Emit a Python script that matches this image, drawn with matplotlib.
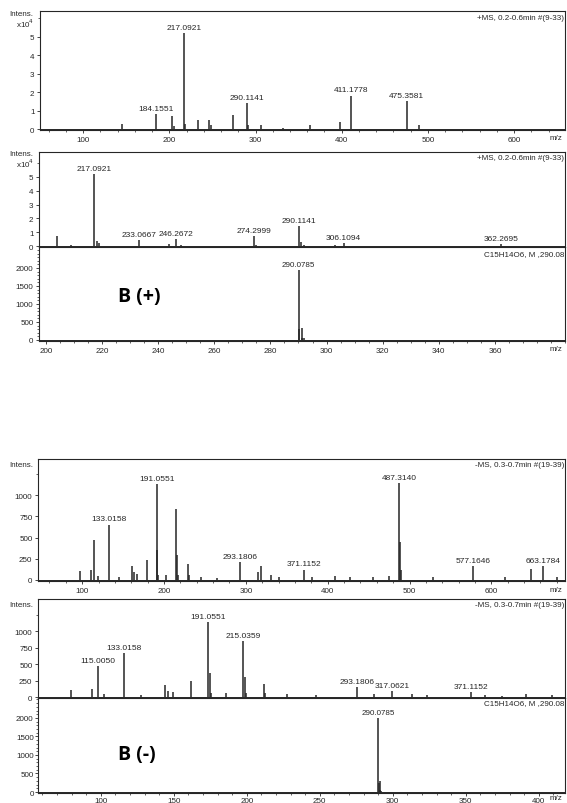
import matplotlib
matplotlib.use("Agg")
import matplotlib.pyplot as plt
from matplotlib.ticker import MultipleLocator

W, H = 567, 804
plt.rcParams['font.family'] = ['Liberation Sans', 'DejaVu Sans']
INK = '#262626'

# ---------------- data ----------------
# Panel 1: +MS full scan (intensity x10^4)
p1_mz = [145, 184.1551, 203, 205, 217.0921, 218, 233, 246, 248, 274, 290.1141, 291,
         306, 332, 363, 398, 411.1778, 475.3581, 490]
p1_int = [0.3, 0.8, 0.7, 0.15, 5.2, 0.3, 0.5, 0.5, 0.2, 0.75, 1.4, 0.2,
          0.2, 0.08, 0.2, 0.4, 1.8, 1.5, 0.2]
p1_labels = ['184.1551', '217.0921', '290.1141', '411.1778', '475.3581']
p1_xticks = [100, 200, 300, 400, 500, 600]

# Panel 2: +MS zoom (intensity x10^4)
p2_mz = [204, 209, 217.0921, 218, 219, 233.0667, 244, 246.2672, 248, 274.2999, 275,
         290.1141, 291, 292, 303, 306.1094, 362.2695]
p2_int = [0.75, 0.1, 5.2, 0.4, 0.2, 0.45, 0.15, 0.5, 0.1, 0.75, 0.1,
          1.45, 0.3, 0.1, 0.1, 0.2, 0.15]
p2_labels = ['217.0921', '233.0667', '246.2672', '274.2999', '290.1141', '306.1094', '362.2695']

# Panel 3 / 6: simulated isotope pattern C15H14O6
p3_mz = [290.0785, 290.3, 291.0819, 291.4, 292.08]
p3_int = [1950, 300, 330, 60, 50]
p6_int = [2000, 250, 300, 60, 40]
sim_label = '290.0785'
p3_xticks = [200, 220, 240, 260, 280, 300, 320, 340, 360]
p6_xticks = [100, 150, 200, 250, 300, 350, 400]

# Panel 4: -MS full scan
p4_mz = [97, 111, 115.0050, 119, 133.0158, 145, 161, 163, 167, 179, 191.0551, 192, 193,
         203, 215.0359, 216, 217, 229, 230, 245, 265, 293.1806, 315, 319, 331, 341,
         371.1152, 381, 409, 427, 455, 475, 487.3140, 488, 489, 529, 577.1646,
         617, 649, 663.1784, 680]
p4_int = [100, 120, 470, 50, 650, 30, 170, 90, 70, 230, 1130, 350, 60,
          60, 840, 290, 60, 190, 60, 40, 25, 210, 90, 160, 60, 40,
          120, 40, 50, 40, 30, 50, 1140, 450, 120, 30, 160,
          30, 130, 160, 30]
p4_labels = ['133.0158', '191.0551', '293.1806', '371.1152', '487.3140', '577.1646', '663.1784']
p4_xticks = [100, 200, 300, 400, 500, 600]

# Panel 5: -MS zoom
p5_mz = [97, 111, 115.0050, 119, 133.0158, 145, 161, 163, 167, 179, 191.0551, 192, 193,
         203, 215.0359, 216, 217, 229, 230, 245, 265, 293.1806, 305, 317.0621, 331, 341,
         371.1152, 381, 393, 409, 427]
p5_int = [100, 120, 470, 50, 670, 30, 180, 90, 70, 240, 1130, 370, 60,
          60, 850, 300, 60, 200, 60, 40, 25, 150, 40, 90, 40, 30,
          80, 30, 20, 40, 30]
p5_labels = ['115.0050', '133.0158', '191.0551', '215.0359', '293.1806', '317.0621', '371.1152']

pos_info = '+MS, 0.2-0.6min #(9-33)'
neg_info = '-MS, 0.3-0.7min #(19-39)'
formula = 'C15H14O6, M ,290.08'

fig = plt.figure(figsize=(W / 100, H / 100), dpi=100)
fig.patch.set_facecolor('white')


def add_ax(l, r, t, b):
    return fig.add_axes([l / W, 1 - b / H, (r - l) / W, (b - t) / H])


def fx(px):
    return px / W


def fy(py):
    return 1 - py / H


def style(ax, xlim, ylim, xticks, xmin, yticks, ymin, xlabels=True, pad=1.5):
    ax.set_xlim(*xlim)
    ax.set_ylim(*ylim)
    ax.set_xticks(xticks)
    ax.xaxis.set_minor_locator(MultipleLocator(xmin))
    ax.set_yticks(yticks)
    ax.yaxis.set_minor_locator(MultipleLocator(ymin))
    ax.tick_params(axis='both', which='major', direction='out', length=2.5, width=0.6,
                   labelsize=5.8, colors=INK, pad=pad)
    ax.tick_params(axis='both', which='minor', direction='out', length=1.2, width=0.5, colors=INK)
    ax.tick_params(axis='x', labelbottom=xlabels)
    ax.set_xlim(*xlim)
    ax.set_ylim(*ylim)
    for s in ax.spines.values():
        s.set_color(INK)
        s.set_linewidth(0.8)


def draw(ax, mz, inten, labels, fs=6.0):
    ax.vlines(mz, 0, inten, color=INK, lw=1.1)
    ax.axhline(0, color=INK, lw=0.7)
    ylo, yhi = ax.get_ylim()
    for m, v in zip(mz, inten):
        lab = f'{m:.4f}'
        if lab in labels:
            ax.text(m, v + (yhi - ylo) * 0.02, lab, ha='center', va='bottom',
                    fontsize=fs, color=INK)


# Panel 1
ax1 = add_ax(40, 565, 12, 131)
style(ax1, (50, 659), (-0.05, 6.4), p1_xticks, 20, [0, 1, 2, 3, 4, 5], 1)
draw(ax1, p1_mz, p1_int, p1_labels)

# Panel 2
ax2 = add_ax(39, 565, 153, 248)
style(ax2, (197.5, 385), (-0.07, 6.81), p3_xticks, 5, [0, 1, 2, 3, 4, 5], 1, xlabels=False)
draw(ax2, p2_mz, p2_int, p2_labels)

# Panel 3
ax3 = add_ax(39, 565, 248, 342)
style(ax3, (197.5, 385), (-28, 2583), p3_xticks, 5, [0, 500, 1000, 1500, 2000], 100)
draw(ax3, p3_mz, p3_int, [sim_label], fs=5.8)

# Panel 4
ax4 = add_ax(38, 565, 460, 582)
style(ax4, (46, 690), (-12, 1424), p4_xticks, 20, [0, 250, 500, 750, 1000], 250)
draw(ax4, p4_mz, p4_int, p4_labels)

# Panel 5
ax5 = add_ax(38, 565, 600, 699)
style(ax5, (74, 436), (-15, 1485), p6_xticks, 10, [0, 250, 500, 750, 1000], 250, xlabels=False)
draw(ax5, p5_mz, p5_int, p5_labels)

# Panel 6
ax6 = add_ax(38, 565, 699, 794)
style(ax6, (57, 418), (-27, 2540), p6_xticks, 10, [0, 500, 1000, 1500, 2000], 100, pad=0.6)
draw(ax6, p3_mz, p6_int, [sim_label], fs=5.8)

# Text annotations
tk = dict(fontsize=5.8, color=INK)
fig.text(fx(33), fy(15), 'Intens.', ha='right', va='center', **tk)
fig.text(fx(34), fy(24), r'x10$^4$', ha='right', va='center', **tk)
fig.text(fx(33), fy(155), 'Intens.', ha='right', va='center', **tk)
fig.text(fx(34), fy(164), r'x10$^4$', ha='right', va='center', **tk)
fig.text(fx(33), fy(466), 'Intens.', ha='right', va='center', **tk)
fig.text(fx(33), fy(606), 'Intens.', ha='right', va='center', **tk)

fig.text(fx(564), fy(19), pos_info, ha='right', va='center', **tk)
fig.text(fx(564), fy(159), pos_info, ha='right', va='center', **tk)
fig.text(fx(564), fy(466), neg_info, ha='right', va='center', **tk)
fig.text(fx(564), fy(606), neg_info, ha='right', va='center', **tk)
fig.text(fx(564), fy(255), formula, ha='right', va='center', **tk)
fig.text(fx(564), fy(704), formula, ha='right', va='center', **tk)

for yy in (139, 350, 590, 799):
    fig.text(fx(556), fy(yy), 'm/z', ha='center', va='center', **tk)

bk = dict(fontsize=14, fontweight='bold', color='black', family=['Open Sans', 'DejaVu Sans'])
fig.text(fx(118), fy(297), 'B (+)', ha='left', va='center', **bk)
fig.text(fx(118), fy(755), 'B (-)', ha='left', va='center', **bk)

fig.savefig('out.png', dpi=100, facecolor='white')
